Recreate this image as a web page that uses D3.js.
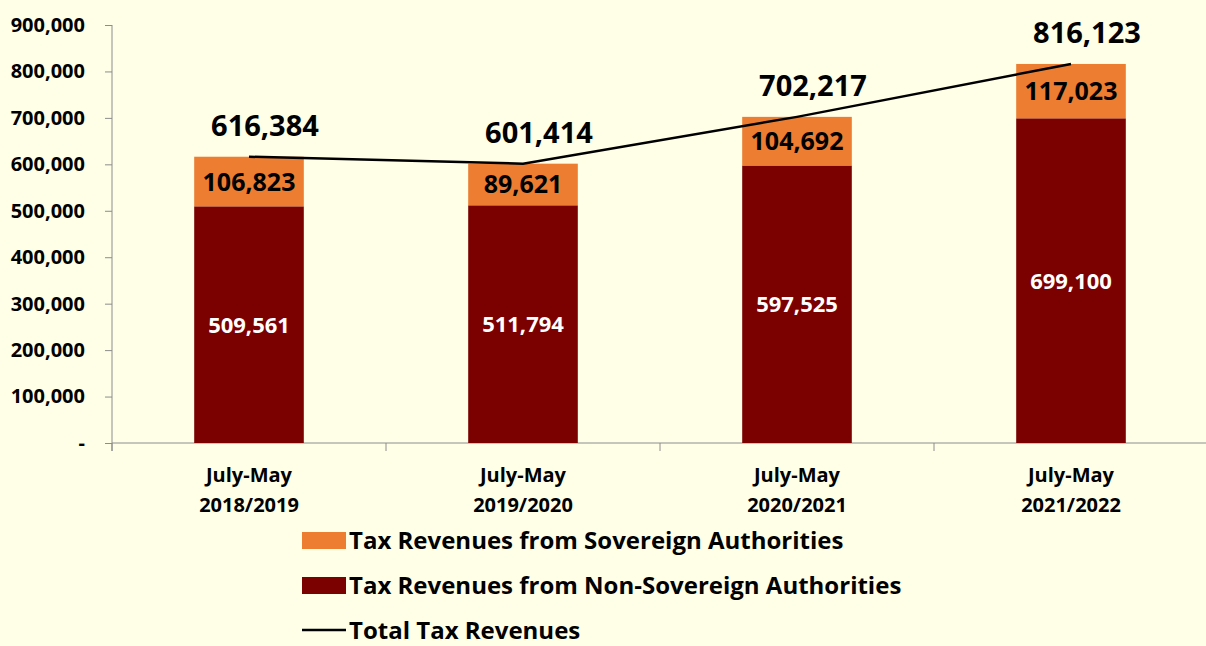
<!DOCTYPE html>
<html>
<head>
<meta charset="utf-8">
<script src="https://cdn.jsdelivr.net/npm/d3@7"></script>
<style>
  html, body { margin: 0; padding: 0; background: #FFFFE8; }
  svg { display: block; font-family: "Open Sans", Lato, sans-serif; font-weight: bold; }
</style>
</head>
<body>
<script>
  var categories = ["July-May|2018/2019", "July-May|2019/2020", "July-May|2020/2021", "July-May|2021/2022"];
  var nonSovereign = [509561, 511794, 597525, 699100];
  var sovereign = [106823, 89621, 104692, 117023];
  var totals = [616384, 601414, 702217, 816123];
  var yTicks = [0, 100000, 200000, 300000, 400000, 500000, 600000, 700000, 800000, 900000];

  var W = 1206, H = 646;
  var margin = { top: 25, right: 0, bottom: 203, left: 112 };
  var fmt = d3.format(",");

  var svg = d3.select("body").append("svg").attr("width", W).attr("height", H);
  svg.append("rect").attr("width", W).attr("height", H).attr("fill", "#FFFFE8");

  var x = d3.scaleBand().domain(categories).range([margin.left, margin.left + 274 * 4]).paddingInner(0.6).paddingOuter(0.3);
  var y = d3.scaleLinear().domain([0, 900000]).range([H - margin.bottom, margin.top]);
  var cx = function(i) { return x(categories[i]) + x.bandwidth() / 2; };

  // y axis
  var yAxis = svg.append("g").attr("transform", "translate(" + margin.left + ",0)")
    .call(d3.axisLeft(y).tickValues(yTicks).tickSize(7).tickPadding(20)
      .tickFormat(function(d) { return d === 0 ? "-" : fmt(d); }));
  yAxis.select(".domain").attr("d", "M0," + y(900000) + "V" + (y(0) + 8)).attr("stroke", "#8c8c8c");
  yAxis.selectAll(".tick line").attr("stroke", "#8c8c8c");
  yAxis.selectAll(".tick text").attr("fill", "#000").style("font-size", "20px").style("font-weight", "bold")
    .style("font-family", "'Open Sans', sans-serif");

  // x axis line with boundary ticks
  var x0 = margin.left, x1 = margin.left + 274 * 4;
  svg.append("line").attr("x1", x0).attr("x2", x1).attr("y1", y(0)).attr("y2", y(0)).attr("stroke", "#8c8c8c");
  svg.selectAll(".xb").data(d3.range(5)).enter().append("line")
    .attr("x1", function(d) { return x0 + d * 274; }).attr("x2", function(d) { return x0 + d * 274; })
    .attr("y1", y(0)).attr("y2", y(0) + 8).attr("stroke", "#8c8c8c");

  // x labels
  categories.forEach(function(c, i) {
    var parts = c.split("|");
    var t = svg.append("text").attr("x", cx(i)).attr("text-anchor", "middle").style("font-size", "20px");
    t.append("tspan").attr("x", cx(i)).attr("y", 482).text(parts[0]);
    t.append("tspan").attr("x", cx(i)).attr("y", 512).text(parts[1]);
  });

  // bars
  svg.selectAll(".bottom").data(nonSovereign).enter().append("rect")
    .attr("x", function(d, i) { return x(categories[i]); })
    .attr("width", x.bandwidth())
    .attr("y", function(d) { return y(d); })
    .attr("height", function(d) { return y(0) - y(d); })
    .attr("fill", "#7B0000");
  svg.selectAll(".top").data(sovereign).enter().append("rect")
    .attr("x", function(d, i) { return x(categories[i]); })
    .attr("width", x.bandwidth())
    .attr("y", function(d, i) { return y(d + nonSovereign[i]); })
    .attr("height", function(d) { return y(0) - y(d); })
    .attr("fill", "#ED7D31");

  // segment labels
  svg.selectAll(".lb").data(nonSovereign).enter().append("text")
    .attr("x", function(d, i) { return cx(i); })
    .attr("y", function(d) { return (y(d) + y(0)) / 2 + 8; })
    .attr("text-anchor", "middle").attr("fill", "#fff").style("font-size", "22px")
    .text(function(d) { return fmt(d); });
  svg.selectAll(".lt").data(sovereign).enter().append("text")
    .attr("x", function(d, i) { return cx(i); })
    .attr("y", function(d, i) { return (y(nonSovereign[i]) + y(nonSovereign[i] + d)) / 2 + 9; })
    .attr("text-anchor", "middle").attr("fill", "#000").style("font-size", "25px")
    .text(function(d) { return fmt(d); });

  // total line
  var line = d3.line().x(function(d, i) { return cx(i); }).y(function(d) { return y(d); });
  svg.append("path").datum(totals).attr("d", line).attr("fill", "none").attr("stroke", "#000").attr("stroke-width", 2.5);
  svg.selectAll(".tl").data(totals).enter().append("text")
    .attr("x", function(d, i) { return cx(i) + 16; })
    .attr("y", function(d) { return y(d) - 21; })
    .attr("text-anchor", "middle").attr("fill", "#000").style("font-size", "29px")
    .text(function(d) { return fmt(d); });

  // legend
  var legend = [
    { label: "Tax Revenues from Sovereign Authorities", color: "#ED7D31", type: "rect" },
    { label: "Tax Revenues from Non-Sovereign Authorities", color: "#7B0000", type: "rect" },
    { label: "Total Tax Revenues", color: "#000", type: "line" }
  ];
  var lg = svg.selectAll(".lg").data(legend).enter().append("g")
    .attr("transform", function(d, i) { return "translate(302," + (540 + i * 45) + ")"; });
  lg.filter(function(d) { return d.type === "rect"; }).append("rect")
    .attr("x", 0).attr("y", -8).attr("width", 44).attr("height", 17).attr("fill", function(d) { return d.color; });
  lg.filter(function(d) { return d.type === "line"; }).append("line")
    .attr("x1", 0).attr("x2", 44).attr("y1", 0).attr("y2", 0).attr("stroke", "#000").attr("stroke-width", 2.5);
  lg.append("text").attr("x", 47).attr("y", 9).style("font-size", "24px").attr("fill", "#000")
    .text(function(d) { return d.label; });
</script>
</body>
</html>
